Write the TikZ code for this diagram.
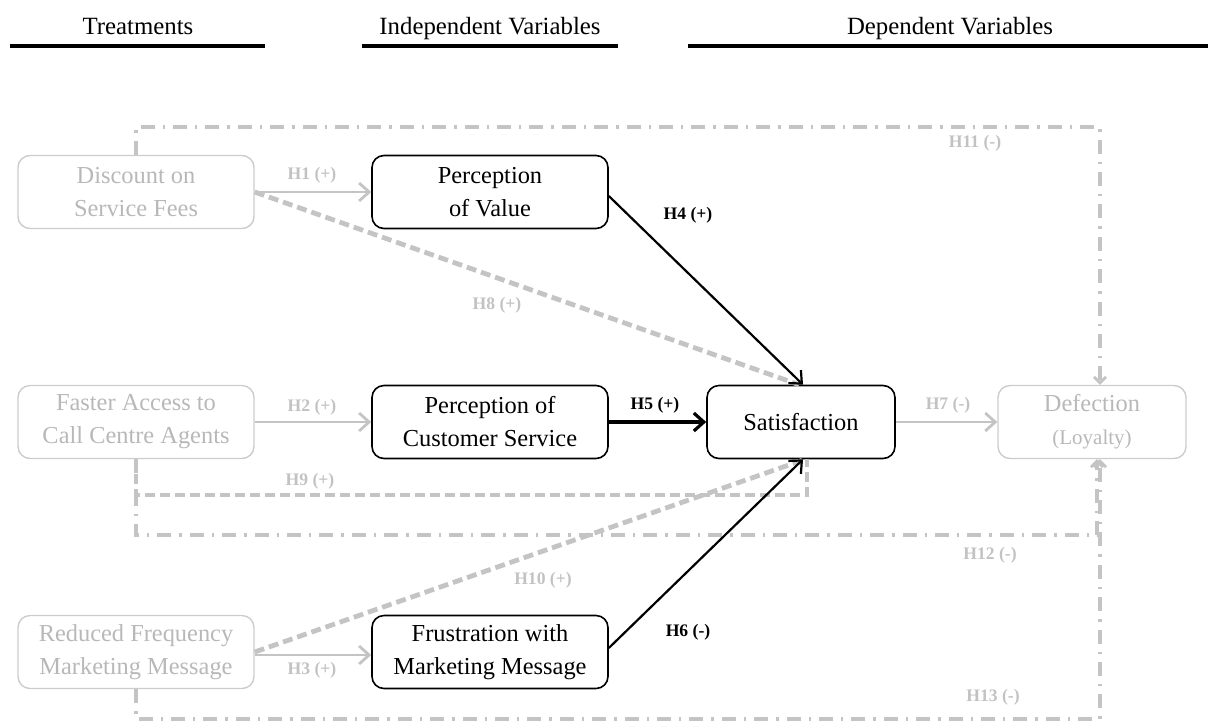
\documentclass[tikz,border=0pt]{standalone}
\usepackage{fontspec}
\setmainfont{Liberation Serif}
\usetikzlibrary{arrows.meta,calc}
\definecolor{gbox}{HTML}{CCCCCC}
\definecolor{gtxt}{HTML}{B8B8B8}
\definecolor{gline}{HTML}{C4C4C4}
\definecolor{glab}{HTML}{C2C2C2}
\tikzset{
  box/.style={draw=black, line width=0.8pt, rounded corners=6pt, minimum width=118pt, minimum height=36.5pt, align=center, font=\fontsize{12.2}{16.5}\selectfont, inner sep=2pt},
  gbx/.style={box, draw=gbox, text=gtxt, line width=0.7pt},
  satbox/.style={box, minimum width=94pt},
  hdr/.style={font=\fontsize{12.4}{14}\selectfont, anchor=base},
  hline/.style={line width=1.6pt},
  lab/.style={font=\bfseries\fontsize{8.8}{10}\selectfont, text=glab},
  blab/.style={font=\bfseries\fontsize{8.8}{10}\selectfont, text=black},
  garr/.style={draw=gline, line width=1.4pt, -{Straight Barb[length=5pt,width=9pt,line width=1.4pt]}},
  barr/.style={draw=black, line width=1.1pt, -{Straight Barb[length=5pt,width=9pt,line width=1.1pt]}},
  bbarr/.style={draw=black, line width=1.6pt, -{Straight Barb[length=5pt,width=9pt,line width=1.6pt]}},
  gdash/.style={draw=gline, line width=2.4pt, dash pattern=on 5pt off 2.5pt},
  gdd/.style={draw=gline, line width=2.4pt, dash pattern=on 7pt off 4pt on 1.2pt off 4pt, -{Straight Barb[length=3pt,width=6pt,line width=1.4pt]}}
}
\begin{document}
\begin{tikzpicture}[x=0.5pt,y=-0.5pt]
\useasboundingbox (0,0) rectangle (1213,724);
% headers
\node[hdr] (th) at (138,34) {Treatments};
\node[hdr] (ih) at (490,34) {Independent Variables};
\node[hdr] (dh) at (950,34) {Dependent Variables};
\draw[hline] (10,46) -- (265,46);
\draw[hline] (362,46) -- (618,46);
\draw[hline] (688,46) -- (1208,46);
% nodes
\node[gbx] (disc) at (136,192) {Discount on\\Service Fees};
\node[box] (pov) at (490,192) {Perception\\of Value};
\node[gbx] (fast) at (136,422) {Faster Access to\\Call Centre Agents};
\node[box] (pcs) at (490,422) {Perception of\\Customer Service};
\node[satbox] (sat) at (801,422) {Satisfaction};
\node[gbx, minimum width=94pt] (def) at (1092,422) {Defection\\{\fontsize{10.5}{14}\selectfont(Loyalty)}};
\node[gbx] (red) at (136,652) {Reduced Frequency\\Marketing Message};
\node[box] (fru) at (490,652) {Frustration with\\Marketing Message};
% corner coordinates
\coordinate (k11) at (1100,127);
\coordinate (k12) at (1097,535);
\coordinate (k13) at (1100,719);
\coordinate (k9) at (807,495);
% dashed (H8, H9, H10)
\draw[gdash] (disc.east) -- ([xshift=-1pt]sat.north);
\draw[gdash] (fast.south) |- (k9) -- (k9 |- sat.south);
\draw[gdash] (red.east) -- ([xshift=2pt]sat.south);
% dash-dot (H11, H12, H13)
\draw[gdd] (disc.north) |- (k11) -- (k11 |- def.north);
\draw[gdd] (fast.south) |- (k12) -- (k12 |- def.south);
\draw[gdd] (red.south) |- (k13) -- (k13 |- def.south);
% solid arrows
\draw[garr] (disc.east) -- (pov.west);
\draw[garr] (fast.east) -- (pcs.west);
\draw[garr] ([yshift=-1.5pt]red.east) -- ([yshift=-1.5pt]fru.west);
\draw[garr] (sat.east) -- (def.west);
\draw[barr] ([yshift=-2pt]pov.east) -- ([xshift=1pt]sat.north);
\draw[bbarr] (pcs.east) -- (sat.west);
\draw[barr] ([yshift=2pt]fru.east) -- ([xshift=1pt]sat.south);
% labels
\node[lab] (l1) at (312,175) {H1 (+)};
\node[lab] (l2) at (312,407) {H2 (+)};
\node[lab] (l3) at (312,670) {H3 (+)};
\node[blab] (l4) at (688,215) {H4 (+)};
\node[blab] (l5) at (655,405) {H5 (+)};
\node[blab] (l6) at (688,632) {H6 (-)};
\node[lab] (l7) at (948,405) {H7 (-)};
\node[lab] (l8) at (497,305) {H8 (+)};
\node[lab] (l9) at (310,481) {H9 (+)};
\node[lab] (l10) at (543,580) {H10 (+)};
\node[lab] (l11) at (975,143) {H11 (-)};
\node[lab] (l12) at (990,555) {H12 (-)};
\node[lab] (l13) at (993,697) {H13 (-)};
\end{tikzpicture}
\end{document}
